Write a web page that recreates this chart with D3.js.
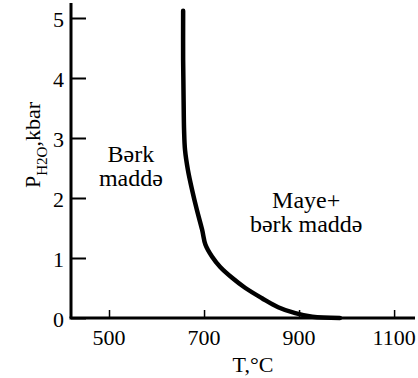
<!DOCTYPE html>
<html>
<head>
<meta charset="utf-8">
<script src="https://cdn.jsdelivr.net/npm/d3@7"></script>
<style>
  body { margin: 0; background: #fff; }
</style>
</head>
<body>
<div id="chart"></div>
<script>
// Phase boundary: temperature (°C) vs water pressure (kbar)
const temps = [656, 656, 657, 658, 660, 666, 675, 685, 696, 703, 717, 734, 759, 787, 822, 856, 892, 928, 986];
const pressures = [5.12, 4.3, 3.63, 3.13, 2.8, 2.47, 2.13, 1.8, 1.47, 1.22, 1.02, 0.85, 0.67, 0.5, 0.33, 0.18, 0.08, 0.02, 0];

const xTicks = [500, 700, 900, 1100];
const yTicks = [0, 1, 2, 3, 4, 5];

const width = 418;
const height = 378;
const serif = 'Liberation Serif, Times New Roman, serif';

const svg = d3.select('#chart').append('svg')
  .attr('width', width)
  .attr('height', height)
  .attr('font-family', serif);

// Scales
const x = d3.scaleLinear().domain([420, 1144]).range([71, 415]);
const y = d3.scaleLinear().domain([0, 5.25]).range([318, 3]);

// Y axis
const yAxis = svg.append('g')
  .attr('transform', `translate(${x(420)},0)`)
  .call(d3.axisRight(y).tickValues(yTicks).tickSize(15).tickFormat(''));
yAxis.select('.domain').attr('d', `M0,${y(5.25)}V${y(0)}`).attr('stroke-width', 3);
yAxis.selectAll('.tick line').attr('stroke-width', 2);

svg.selectAll('.ylab')
  .data(yTicks)
  .enter().append('text')
  .attr('class', 'ylab')
  .attr('x', 64)
  .attr('y', d => y(d) + 9)
  .attr('text-anchor', 'end')
  .attr('font-family', serif)
  .attr('font-size', 22)
  .text(d => d);

// X axis
const xAxis = svg.append('g')
  .attr('transform', `translate(0,${y(0)})`)
  .call(d3.axisTop(x).tickValues(xTicks).tickSize(8).tickFormat(''));
xAxis.select('.domain').attr('d', `M${x(420) - 1.5},0H${x(1144)}`).attr('stroke-width', 3);
xAxis.selectAll('.tick line').attr('stroke-width', 1.5);

svg.selectAll('.xlab')
  .data(xTicks)
  .enter().append('text')
  .attr('class', 'xlab')
  .attr('x', d => x(d))
  .attr('y', 345)
  .attr('text-anchor', 'middle')
  .attr('font-family', serif)
  .attr('font-size', 22)
  .text(d => d);

// Axis titles
svg.append('text')
  .attr('x', 253)
  .attr('y', 372)
  .attr('text-anchor', 'middle')
  .attr('font-family', serif)
  .attr('font-size', 22)
  .text('T,°C');

const yTitle = svg.append('text')
  .attr('transform', 'translate(40,145) rotate(-90)')
  .attr('text-anchor', 'middle')
  .attr('font-family', serif)
  .attr('font-size', 22);
yTitle.append('tspan').text('P');
yTitle.append('tspan').attr('font-size', 15).attr('dy', 7).text('H2O');
yTitle.append('tspan').attr('dy', -7).text(',kbar');

// Boundary curve
const line = d3.line()
  .x(d => x(d[0]))
  .y(d => y(d[1]))
  .curve(d3.curveCatmullRom);

svg.append('path')
  .datum(d3.zip(temps, pressures))
  .attr('fill', 'none')
  .attr('stroke', '#000')
  .attr('stroke-width', 4.5)
  .attr('stroke-linecap', 'round')
  .attr('d', line);

// Region labels
const labels = [
  { lines: ['Bərk', 'maddə'], t: 546, p: 2.6 },
  { lines: ['Maye+', 'bərk maddə'], t: 915, p: 1.83 }
];

labels.forEach(l => {
  const t = svg.append('text')
    .attr('x', x(l.t))
    .attr('y', y(l.p))
    .attr('text-anchor', 'middle')
    .attr('font-family', serif)
    .attr('font-size', 24);
  l.lines.forEach((s, i) => {
    t.append('tspan')
      .attr('x', x(l.t))
      .attr('dy', i === 0 ? 0 : 24)
      .text(s);
  });
});
</script>
</body>
</html>
